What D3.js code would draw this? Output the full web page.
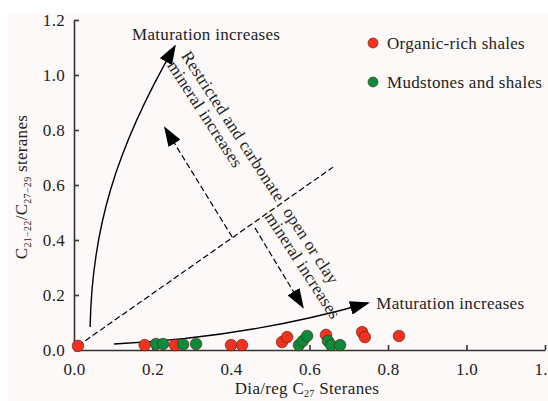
<!DOCTYPE html>
<html>
<head>
<meta charset="utf-8">
<script src="https://cdn.jsdelivr.net/npm/d3@7"></script>
<style>
  body { margin: 0; background: #ffffff; }
  svg text { font-family: "Liberation Serif", "Times New Roman", serif; fill: #222; letter-spacing: 0.3px; }
</style>
</head>
<body>
<div id="chart"></div>
<script>
// organic-rich shales (red)
const redX = [0.01, 0.18, 0.257, 0.40, 0.428, 0.53, 0.543, 0.642, 0.734, 0.741, 0.828];
const redY = [0.015, 0.018, 0.018, 0.018, 0.018, 0.029, 0.047, 0.055, 0.065, 0.047, 0.051];
// mudstones and shales (green)
const greenX = [0.209, 0.227, 0.278, 0.311, 0.573, 0.583, 0.594, 0.647, 0.655, 0.678];
const greenY = [0.022, 0.022, 0.020, 0.022, 0.018, 0.033, 0.051, 0.033, 0.018, 0.018];

const ticks = [0.0, 0.2, 0.4, 0.6, 0.8, 1.0, 1.2];
const seriesNames = ["Organic-rich shales", "Mudstones and shales"];
const seriesColors = ["#f0321e", "#0a8a3a"];

function drawChart() {
    const width = 548;
    const height = 401;
    const fs = "17px";

    const svg = d3.select("#chart")
        .append("svg")
        .attr("width", width)
        .attr("height", height);

    // faint paper background
    svg.append("rect")
        .attr("x", 8).attr("y", 13)
        .attr("width", width - 8).attr("height", height - 13)
        .attr("fill", "#fcf9f8");

    const x = d3.scaleLinear().domain([0, 1.2]).range([74, 545]);
    const y = d3.scaleLinear().domain([0, 1.2]).range([350, 20]);

    // arrow heads
    const defs = svg.append("defs");
    defs.append("marker")
        .attr("id", "head")
        .attr("markerUnits", "userSpaceOnUse")
        .attr("viewBox", "0 0 20 14")
        .attr("refX", 18).attr("refY", 7)
        .attr("markerWidth", 20).attr("markerHeight", 14)
        .attr("orient", "auto")
        .append("path")
        .attr("d", "M0,0 L20,7 L0,14 Z")
        .attr("fill", "#000");

    // axes
    const xAxis = d3.axisBottom(x).tickValues(ticks).tickFormat(d3.format(".1f"))
        .tickSizeInner(-5).tickSizeOuter(0).tickPadding(13);
    const yAxis = d3.axisLeft(y).tickValues(ticks).tickFormat(d3.format(".1f"))
        .tickSizeInner(-5).tickSizeOuter(0).tickPadding(9);

    const gx = svg.append("g").attr("transform", "translate(0," + y(0) + ")").call(xAxis);
    const gy = svg.append("g").attr("transform", "translate(" + x(0) + ",0)").call(yAxis);
    [gx, gy].forEach(function (g) {
        g.selectAll("path, line").attr("stroke", "#333").attr("stroke-width", 1.6);
        g.selectAll("text")
            .style("font-family", "'Liberation Serif', serif")
            .style("font-size", fs)
            .attr("fill", "#333");
    });

    const line = d3.line().x(d => x(d[0])).y(d => y(d[1]));
    // cubic bezier through scaled control points
    const bezier = function (p) {
        const path = d3.path();
        path.moveTo(x(p[0][0]), y(p[0][1]));
        path.bezierCurveTo(x(p[1][0]), y(p[1][1]), x(p[2][0]), y(p[2][1]), x(p[3][0]), y(p[3][1]));
        return path.toString();
    };

    // dashed divider
    svg.append("path")
        .attr("d", line([[0.01, 0.015], [0.66, 0.665]]))
        .attr("fill", "none").attr("stroke", "#000")
        .attr("stroke-width", 1.2).attr("stroke-dasharray", "6,3");

    // dashed arrows across the divider
    svg.append("path")
        .attr("d", line([[0.403, 0.411], [0.232, 0.807]]))
        .attr("fill", "none").attr("stroke", "#000")
        .attr("stroke-width", 1.2).attr("stroke-dasharray", "6,3")
        .attr("marker-end", "url(#head)");
    svg.append("path")
        .attr("d", line([[0.461, 0.444], [0.583, 0.156]]))
        .attr("fill", "none").attr("stroke", "#000")
        .attr("stroke-width", 1.2).attr("stroke-dasharray", "6,3")
        .attr("marker-end", "url(#head)");

    // maturation arrows
    svg.append("path")
        .attr("d", bezier([[0.041, 0.084], [0.046, 0.436], [0.104, 0.727], [0.257, 1.105]]))
        .attr("fill", "none").attr("stroke", "#000").attr("stroke-width", 1.4)
        .attr("marker-end", "url(#head)");
    svg.append("path")
        .attr("d", bezier([[0.102, 0.022], [0.321, 0.036], [0.525, 0.08], [0.749, 0.171]]))
        .attr("fill", "none").attr("stroke", "#000").attr("stroke-width", 1.4)
        .attr("marker-end", "url(#head)");

    // labels
    svg.append("text").attr("x", x(0.148)).attr("y", y(1.128))
        .style("font-size", fs).text("Maturation increases");
    svg.append("text").attr("x", x(0.77)).attr("y", y(0.148))
        .style("font-size", fs).text("Maturation increases");

    const rotLabels = [
        {t: "Restricted and carbonate", p: [0.272, 1.07]},
        {t: "mineral increases", p: [0.236, 1.035]},
        {t: "open or clay", p: [0.531, 0.502]},
        {t: "mineral increases", p: [0.485, 0.485]}
    ];
    rotLabels.forEach(function (d) {
        svg.append("text")
            .attr("transform", "translate(" + x(d.p[0]) + "," + y(d.p[1]) + ") rotate(57)")
            .style("font-size", fs)
            .text(d.t);
    });

    // points
    const red = redX.map((v, i) => [v, redY[i]]);
    const green = greenX.map((v, i) => [v, greenY[i]]);
    [red, green].forEach(function (pts, k) {
        svg.append("g").selectAll("circle")
            .data(pts)
            .join("circle")
            .attr("cx", d => x(d[0]))
            .attr("cy", d => y(d[1]))
            .attr("r", 5.8)
            .attr("fill", seriesColors[k])
            .attr("stroke", "#5a1a10")
            .attr("stroke-width", 0.6);
    });

    // legend
    const legend = svg.append("g");
    seriesNames.forEach(function (name, i) {
        legend.append("circle")
            .attr("cx", 373).attr("cy", 43 + i * 39)
            .attr("r", 5)
            .attr("fill", seriesColors[i])
            .attr("stroke", "#5a1a10").attr("stroke-width", 0.6);
        legend.append("text")
            .attr("x", 387).attr("y", 49 + i * 39)
            .style("font-size", fs)
            .text(name);
    });

    // axis titles
    const xt = svg.append("text")
        .attr("x", 307).attr("y", 394)
        .attr("text-anchor", "middle")
        .style("font-size", fs);
    xt.append("tspan").text("Dia/reg C");
    xt.append("tspan").attr("dy", 3).style("font-size", "10px").text("27");
    xt.append("tspan").attr("dy", -3).text(" Steranes");

    const yt = svg.append("text")
        .attr("transform", "translate(27,187) rotate(-90)")
        .attr("text-anchor", "middle")
        .style("font-size", fs);
    yt.append("tspan").text("C");
    yt.append("tspan").attr("dy", 4).style("font-size", "10px").text("21\u221222");
    yt.append("tspan").attr("dy", -4).text("/C");
    yt.append("tspan").attr("dy", 4).style("font-size", "10px").text("27\u221229");
    yt.append("tspan").attr("dy", -4).text("  steranes");
}

drawChart();
</script>
</body>
</html>
